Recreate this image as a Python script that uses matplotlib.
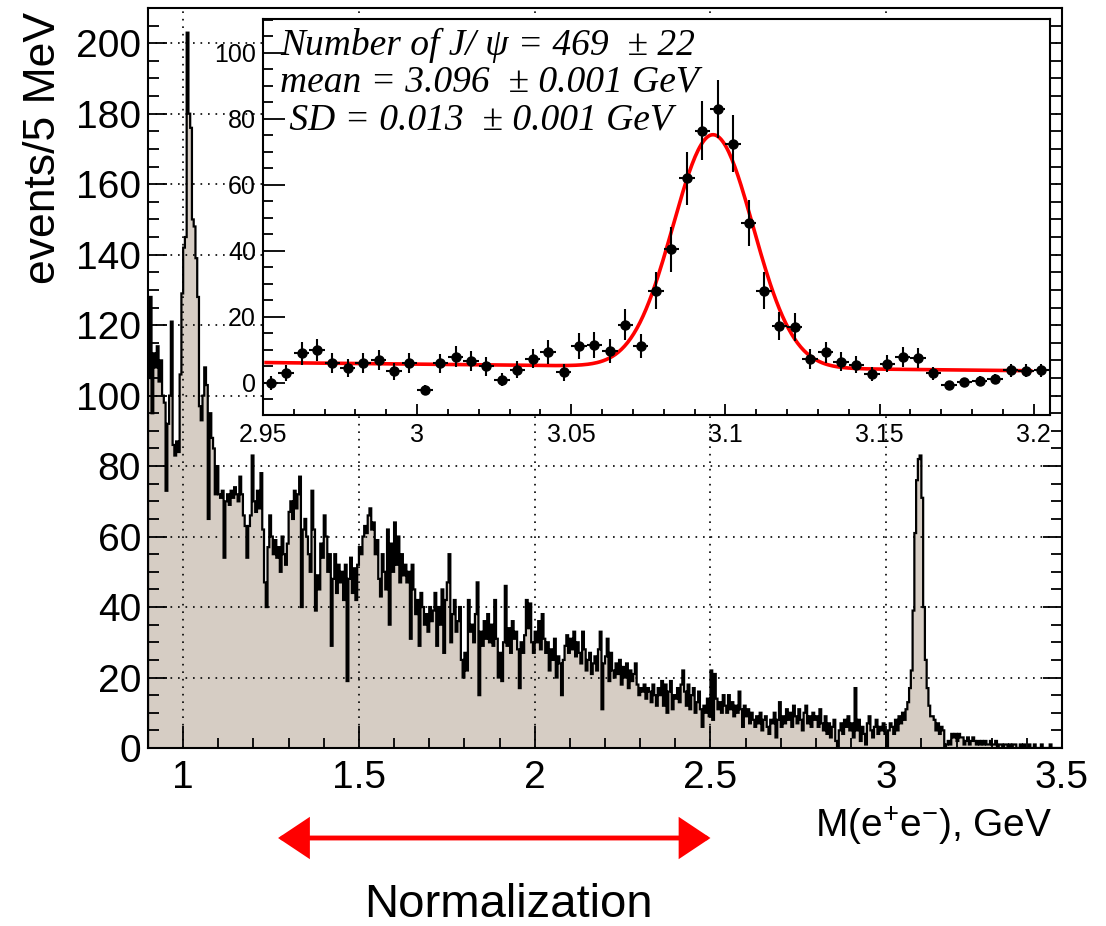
import numpy as np
import matplotlib
matplotlib.use('Agg')
import matplotlib.pyplot as plt
from matplotlib.patches import FancyArrowPatch, ArrowStyle
from matplotlib.ticker import MultipleLocator, FuncFormatter

plt.rcParams['font.family'] = ['Liberation Sans', 'DejaVu Sans']
plt.rcParams['mathtext.default'] = 'regular'

# ---------------- main histogram: M(e+e-) in 5 MeV bins from 0.9 GeV ----------------
hist_start = 0.9
hist_bin_width = 0.005
counts = [
    105, 128, 95, 112, 108, 114, 104, 110, 100, 98, 73, 92, 100, 121, 86, 83, 87, 84, 106, 129,
    142, 145, 203, 180, 176, 150, 148, 139, 128, 97, 93, 100, 108, 103, 65, 95, 88, 85, 72, 80,
    72, 71, 73, 54, 70, 72, 69, 73, 71, 74, 72, 70, 77, 72, 66, 63, 54, 63, 66, 83,
    70, 67, 73, 68, 78, 62, 47, 40, 57, 66, 60, 55, 59, 54, 57, 50, 60, 55, 52, 58,
    67, 70, 65, 73, 68, 72, 77, 40, 62, 65, 60, 55, 50, 73, 62, 39, 49, 45, 58, 54,
    66, 60, 50, 55, 29, 48, 55, 44, 52, 47, 50, 42, 52, 19, 48, 54, 44, 51, 42, 52,
    57, 55, 60, 63, 61, 66, 68, 62, 64, 55, 59, 48, 43, 55, 50, 45, 62, 35, 58, 50,
    64, 52, 60, 47, 55, 49, 52, 47, 50, 31, 52, 45, 38, 42, 29, 44, 40, 35, 38, 33,
    40, 36, 39, 44, 29, 40, 35, 45, 27, 42, 47, 55, 30, 38, 42, 33, 36, 40, 25, 20,
    27, 22, 42, 33, 35, 30, 38, 47, 15, 33, 29, 36, 31, 38, 30, 35, 29, 42, 31, 20,
    27, 19, 30, 46, 29, 34, 27, 36, 31, 33, 28, 17, 30, 27, 32, 42, 34, 41, 30, 27,
    33, 30, 36, 28, 38, 31, 27, 30, 22, 28, 25, 31, 20, 26, 24, 15, 25, 29, 32, 27,
    31, 28, 33, 26, 30, 27, 24, 33, 28, 22, 25, 27, 21, 24, 26, 22, 28, 33, 11, 24,
    26, 31, 19, 27, 22, 20, 24, 21, 25, 18, 23, 20, 24, 17, 22, 19, 21, 24, 18, 15,
    17, 16, 18, 14, 17, 16, 13, 18, 15, 12, 17, 15, 19, 12, 18, 10, 16, 19, 11, 15,
    14, 17, 13, 18, 22, 16, 12, 18, 11, 15, 17, 10, 13, 16, 11, 6, 12, 10, 14, 9,
    22, 8, 21, 14, 11, 13, 10, 15, 12, 10, 15, 11, 13, 9, 12, 10, 16, 11, 6, 12,
    9, 11, 7, 10, 8, 6, 9, 7, 10, 5, 8, 9, 6, 4, 8, 7, 10, 3, 8, 13,
    6, 9, 7, 11, 8, 10, 6, 12, 9, 7, 11, 8, 5, 10, 12, 7, 9, 6, 10, 8,
    9, 6, 11, 7, 5, 9, 4, 7, 3, 6, 8, 2, 0, 5, 7, 4, 8, 6, 9, 5,
    7, 3, 17, 5, 8, 2, 6, 4, 1, 7, 9, 5, 3, 6, 8, 4, 6, 5, 7, 4,
    0, 5, 7, 6, 4, 8, 5, 9, 7, 10, 8, 11, 13, 17, 22, 39, 61, 76, 82, 83,
    71, 40, 25, 17, 12, 9, 9, 8, 5, 7, 4, 6, 5, 0, 1, 2, 1, 4, 3, 4,
    2, 4, 3, 3, 1, 2, 3, 1, 2, 3, 2, 1, 2, 1, 2, 1, 2, 1, 1, 2,
    1, 1, 2, 0, 1, 1, 0, 1, 1, 0, 1, 0, 1, 1, 0, 0, 1, 0, 1, 0,
    0, 1, 0, 0, 1, 0, 0, 0, 1, 0, 0, 0, 0, 1, 0, 0, 0, 0, 0, 0,
]
main_xticks = [1, 1.5, 2, 2.5, 3, 3.5]
main_yticks = [0, 20, 40, 60, 80, 100, 120, 140, 160, 180, 200]
norm_range = [1.27, 2.50]

# ---------------- inset: J/psi region, background subtracted points ----------------
inset_start = 2.95
inset_bin_width = 0.005
inset_y = [0, 3, 9, 10, 6, 4.5, 6, 7, 3.5, 6, -2, 6, 8, 6.7, 5, 1, 4, 7.4, 9.3, 3.2,
           11.2, 11.4, 9.7, 17.7, 11.2, 28, 40.5, 62, 76.5, 83, 72.5, 48.5, 28, 17.2, 17,
           7.2, 9.3, 6.5, 5.5, 2.7, 5.8, 7.8, 7.5, 2.9, -0.6, 0.2, 0.7, 1.1, 3.9, 3.7, 3.9]
inset_err = [2.2, 2.5, 3.5, 3.4, 3.0, 2.8, 3.0, 3.1, 2.6, 3.0, 1.5, 2.9, 3.3, 3.1, 2.9,
             2.0, 2.6, 3.0, 3.6, 2.5, 3.9, 3.9, 3.5, 4.6, 3.7, 5.7, 6.8, 8.0, 9.0, 8.9,
             8.6, 7.0, 5.5, 4.3, 4.3, 3.0, 3.2, 2.8, 2.6, 2.0, 2.6, 3.0, 3.0, 2.0, 1.2,
             1.4, 1.4, 1.5, 2.0, 2.0, 2.0]
inset_xticks = [2.95, 3.0, 3.05, 3.1, 3.15, 3.2]
inset_yticks = [0, 20, 40, 60, 80, 100]

# fit: gaussian + linear background
fit_amp = 70.5
fit_mean = 3.096
fit_sigma = 0.013
fit_bg0 = 6.2      # background at 2.95 GeV
fit_bg_slope = -10.0
fit_range = [2.951, 3.199]

fit_lines = ["Number of J/ \u03c8 = 469  \u00b1 22",
             "mean = 3.096  \u00b1 0.001 GeV",
             " SD = 0.013  \u00b1 0.001 GeV"]

fmt_g = FuncFormatter(lambda v, p: '%g' % round(v, 4))

W, H = 1106, 926
fig = plt.figure(figsize=(W / 100, H / 100), dpi=100)

# ---------------- main axes ----------------
ax = fig.add_axes([148 / W, 1 - 748 / H, (1062 - 148) / W, (748 - 8) / H])
edges = hist_start + hist_bin_width * np.arange(len(counts) + 1)
ax.stairs(counts, edges, fill=True, color='#d6cdc4', zorder=1)
ax.stairs(counts, edges, color='black', lw=1.6, zorder=3)
ax.set_xlim(0.9, 3.5)
ax.set_ylim(0, 210)
ax.set_xticks(main_xticks)
ax.set_yticks(main_yticks)
ax.xaxis.set_minor_locator(MultipleLocator(0.1))
ax.yaxis.set_minor_locator(MultipleLocator(5))
ax.xaxis.set_major_formatter(fmt_g)
ax.set_axisbelow(False)
ax.grid(True, which='major', color='black', linestyle=(0, (1, 3.5)), lw=1.2)
ax.tick_params(which='both', direction='in', right=True, width=1.3)
ax.tick_params(axis='x', which='major', length=16, labelsize=28, pad=9)
ax.tick_params(axis='x', which='minor', length=7)
ax.tick_params(axis='y', which='major', length=14, labelsize=28, pad=5)
ax.tick_params(axis='y', which='minor', length=8)
for s in ax.spines.values():
    s.set_linewidth(1.5)

fig.text(1052 / W, 1 - 826 / H, 'M(e$^{+}$e$^{-}$), GeV', ha='right', va='center', fontsize=28)
fig.text(44 / W, 1 - 12 / H, 'events/5 MeV', rotation=90, ha='center', va='top', fontsize=32)
fig.text(508 / W, 1 - 905 / H, 'Normalization', ha='center', va='center', fontsize=34)

arrow_y = 1 - 838 / H
arr = FancyArrowPatch((norm_range[0], arrow_y), (norm_range[1], arrow_y),
                      transform=matplotlib.transforms.blended_transform_factory(ax.transData, fig.transFigure),
                      arrowstyle=ArrowStyle('<|-|>', head_length=0.9, head_width=0.6),
                      mutation_scale=20, color='#ff0000', lw=3.5, joinstyle='miter',
                      clip_on=False, shrinkA=0, shrinkB=0)
fig.add_artist(arr)

# ---------------- inset axes ----------------
axin = fig.add_axes([263 / W, 1 - 415 / H, (1050 - 263) / W, (415 - 19) / H])
axin.set_zorder(5)
axin.set_facecolor('white')
inset_x = inset_start + inset_bin_width * (np.arange(len(inset_y)) + 0.5)
xf = np.linspace(fit_range[0], fit_range[1], 500)
yf = fit_amp * np.exp(-0.5 * ((xf - fit_mean) / fit_sigma) ** 2) + fit_bg0 + fit_bg_slope * (xf - inset_start)
axin.plot(xf, yf, color='#ff0000', lw=2.6, zorder=2)
axin.errorbar(inset_x, inset_y, yerr=inset_err, xerr=inset_bin_width / 2, fmt='o',
              color='black', ms=6.5, elinewidth=1.5, capsize=0, zorder=3)
axin.set_xlim(2.95, 3.2053)
axin.set_ylim(-9.7, 110.3)
axin.set_xticks(inset_xticks)
axin.set_yticks(inset_yticks)
axin.xaxis.set_minor_locator(MultipleLocator(0.01))
axin.yaxis.set_minor_locator(MultipleLocator(5))
axin.xaxis.set_major_formatter(fmt_g)
axin.tick_params(which='both', direction='in', width=1.3)
axin.tick_params(axis='x', which='major', length=8, labelsize=18, pad=6)
axin.tick_params(axis='x', which='minor', length=4)
axin.tick_params(axis='y', which='major', length=16, labelsize=18, pad=5)
axin.tick_params(axis='y', which='minor', length=7)
for s in axin.spines.values():
    s.set_linewidth(1.5)

text_x = [280, 280, 280]
text_y = [45, 82, 120]
for t, tx, ty in zip(fit_lines, text_x, text_y):
    fig.text(tx / W, 1 - ty / H, t, ha='left', va='center', fontsize=27,
             family=['Liberation Serif', 'DejaVu Serif'], style='italic', zorder=10)

fig.savefig('out.png', dpi=100)
